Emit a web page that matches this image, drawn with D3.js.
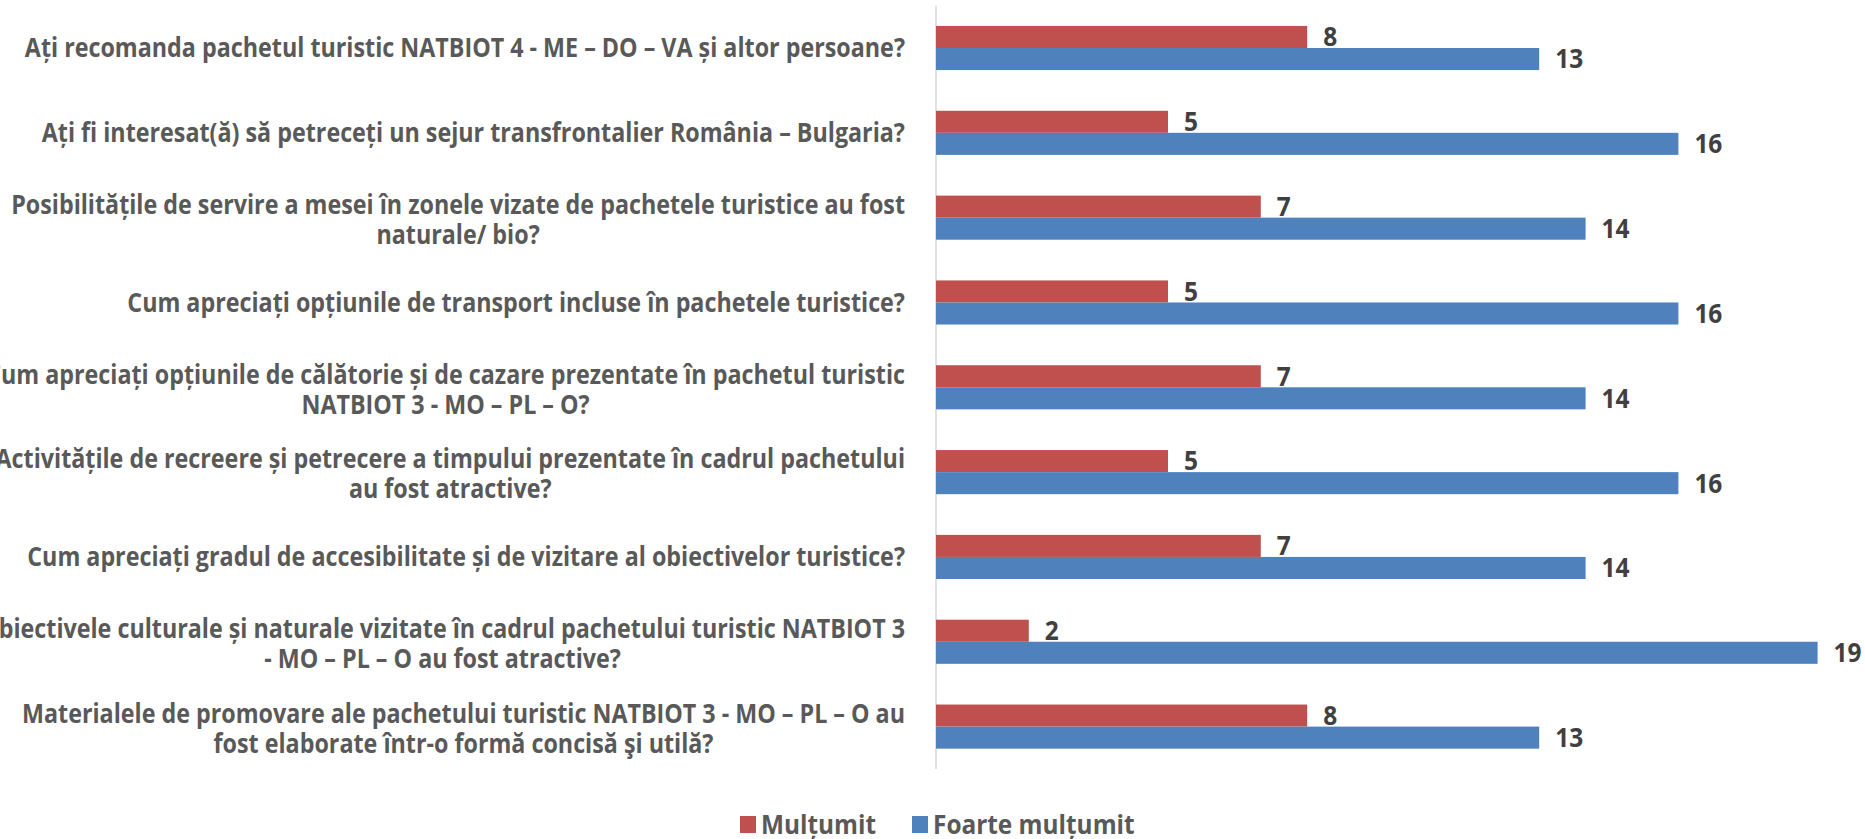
<!DOCTYPE html>
<html>
<head>
<meta charset="utf-8">
<script src="https://cdn.jsdelivr.net/npm/d3@7"></script>
<style>
  html, body { margin: 0; padding: 0; background: #fff; overflow: hidden; }
  text { font-family: "Open Sans", "Noto Sans", sans-serif; font-weight: bold; }
</style>
</head>
<body>
<svg id="chart" width="1865" height="839"></svg>
<script>
// category labels, top to bottom, already wrapped as in the picture
const categories = [
  ["Ați recomanda pachetul turistic NATBIOT 4 - ME – DO – VA și altor persoane?"],
  ["Ați fi interesat(ă) să petreceți un sejur transfrontalier România – Bulgaria?"],
  ["Posibilitățile de servire a mesei în zonele vizate de pachetele turistice au fost", "naturale/ bio?"],
  ["Cum apreciați opțiunile de transport incluse în pachetele turistice?"],
  ["Cum apreciați opțiunile de călătorie și de cazare prezentate în pachetul turistic", "NATBIOT 3 - MO – PL – O?"],
  ["Activitățile de recreere și petrecere a timpului prezentate în cadrul pachetului", "au fost atractive?"],
  ["Cum apreciați gradul de accesibilitate și de vizitare al obiectivelor turistice?"],
  ["Obiectivele culturale și naturale vizitate în cadrul pachetului turistic NATBIOT 3", "- MO – PL – O au fost atractive?"],
  ["Materialele de promovare ale pachetului turistic NATBIOT 3 - MO – PL – O au", "fost elaborate într-o formă concisă şi utilă?"]
];
const multumit = [8, 5, 7, 5, 7, 5, 7, 2, 8];
const foarteMultumit = [13, 16, 14, 16, 14, 16, 14, 19, 13];
const seriesNames = ["Mulțumit", "Foarte mulțumit"];
const colors = ["#C0504D", "#4F81BD"];

const svg = d3.select("#chart");
const fontSize = 26;
const axisX = 936;

const x = d3.scaleLinear().domain([0, 20]).range([axisX, axisX + 928]);
const y = d3.scaleBand()
  .domain(d3.range(categories.length))
  .range([5.6, 769])
  .paddingInner(0.48)
  .paddingOuter(0.24);
const sub = d3.scaleBand().domain([0, 1]).range([0, y.bandwidth()]);

// measure two long lines to squeeze the wide fallback font down to the narrow original
function natural(str) {
  const p = svg.append("text").attr("font-size", fontSize).text(str);
  const w = p.node().getComputedTextLength();
  p.remove();
  return w;
}
const squeeze = (890 + 884) / (natural(categories[0][0]) + natural(categories[2][0]));

function squeezed(sel, extra = 1) {
  sel.each(function () {
    const w = this.getComputedTextLength() * squeeze * extra;
    this.__w = w;
    d3.select(this).attr("textLength", w).attr("lengthAdjust", "spacingAndGlyphs");
  });
  return sel;
}

// axis line
svg.append("line")
  .attr("x1", axisX).attr("x2", axisX)
  .attr("y1", y.range()[0]).attr("y2", y.range()[1])
  .attr("stroke", "#D9D9D9").attr("stroke-width", 1.5);

const rows = categories.map((c, i) => ({ i, vals: [multumit[i], foarteMultumit[i]] }));

const g = svg.selectAll(".row").data(rows).enter().append("g")
  .attr("class", "row")
  .attr("transform", d => `translate(0,${y(d.i)})`);

g.selectAll("rect").data(d => d.vals).enter().append("rect")
  .attr("x", x(0))
  .attr("y", (v, j) => sub(j))
  .attr("width", v => x(v) - x(0))
  .attr("height", sub.bandwidth())
  .attr("fill", (v, j) => colors[j]);

const vlab = g.selectAll(".val").data(d => d.vals).enter().append("text")
  .attr("class", "val")
  .attr("font-size", fontSize)
  .attr("fill", "#404040")
  .attr("x", v => x(v) + 16)
  .attr("y", (v, j) => sub(j) + sub.bandwidth() / 2)
  .attr("dy", "0.36em")
  .text(v => v);
squeezed(vlab, 1.05);

// category labels: block right aligned, lines centered within block
const labelRight = 905;
const lineH = 30;
categories.forEach((lines, i) => {
  const cy = y(i) + y.bandwidth() / 2 + (lines.length > 1 ? 2 : 0);
  const t = svg.append("g");
  const texts = t.selectAll("text").data(lines).enter().append("text")
    .attr("font-size", fontSize)
    .attr("fill", "#595959")
    .attr("y", (l, k) => cy + (k - (lines.length - 1) / 2) * lineH)
    .attr("dy", "0.36em")
    .text(l => l);
  squeezed(texts);
  const widths = texts.nodes().map(n => n.__w);
  const maxW = d3.max(widths);
  const mid = labelRight - maxW / 2;
  texts.attr("x", (l, k) => mid - widths[k] / 2);
});

// legend
const legendY = 824;
const legendItems = [
  { name: seriesNames[0], color: colors[0], x: 740 },
  { name: seriesNames[1], color: colors[1], x: 912 }
];
const lg = svg.selectAll(".leg").data(legendItems).enter().append("g").attr("class", "leg");
lg.append("rect")
  .attr("x", d => d.x).attr("y", legendY - 8)
  .attr("width", 16).attr("height", 17)
  .attr("fill", d => d.color);
squeezed(lg.append("text")
  .attr("font-size", 27.5)
  .attr("fill", "#595959")
  .attr("x", d => d.x + 21)
  .attr("y", legendY)
  .attr("dy", "0.36em")
  .text(d => d.name), 0.99);
</script>
</body>
</html>
